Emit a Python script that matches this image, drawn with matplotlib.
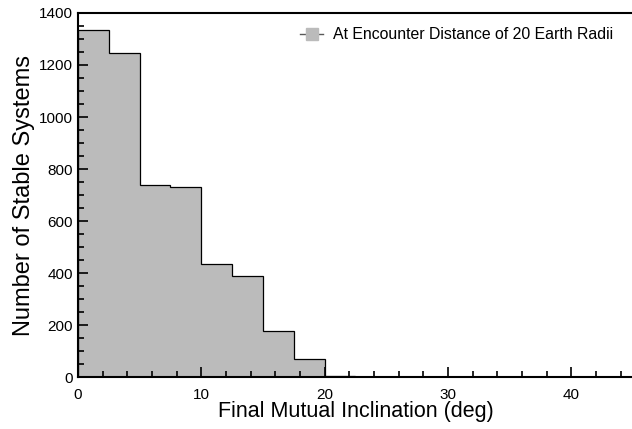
import numpy as np
import matplotlib.pyplot as plt
from matplotlib.lines import Line2D
from matplotlib.ticker import MultipleLocator

plt.rcParams['font.family'] = ['Liberation Sans', 'DejaVu Sans']

# histogram of final mutual inclination, 2.5 deg bins
bin_edges = [0, 2.5, 5, 7.5, 10, 12.5, 15, 17.5, 20, 22.5]
counts = [1333, 1247, 737, 732, 433, 390, 176, 68, 5]
legend_label = 'At Encounter Distance of 20 Earth Radii'

fig = plt.figure(figsize=(6.32, 4.29), dpi=100, facecolor='white')
ax = fig.add_axes([0.1234, 0.1212, 0.878, 0.8485])

ax.stairs(counts, bin_edges, fill=True, facecolor='#BBBBBB', edgecolor='black', lw=0.9)

ax.set_xlim(0, 45)
ax.set_ylim(0, 1400)
ax.xaxis.set_major_locator(MultipleLocator(10))
ax.xaxis.set_minor_locator(MultipleLocator(2))
ax.yaxis.set_major_locator(MultipleLocator(200))
ax.yaxis.set_minor_locator(MultipleLocator(50))
ax.tick_params(which='both', direction='in', top=False, right=False, labelsize=11, width=1.2)
ax.tick_params(which='major', length=7)
ax.tick_params(which='minor', length=4)
ax.tick_params(axis='x', pad=8)
ax.spines['right'].set_visible(False)
for s in ['left', 'bottom', 'top']:
    ax.spines[s].set_linewidth(1.5)

ax.set_xlabel('Final Mutual Inclination (deg)', fontsize=15.5, labelpad=-1)
ax.set_ylabel('Number of Stable Systems', fontsize=17, labelpad=3)

handle = Line2D([], [], color='0.35', lw=1, marker='s', markersize=8,
                markerfacecolor='#BBBBBB', markeredgecolor='#BBBBBB')
ax.legend([handle], [legend_label], loc='upper right', frameon=False,
          fontsize=11.4, handlelength=1.5, handletextpad=0.6,
          bbox_to_anchor=(0.99, 1.0))

fig.savefig('out.png', dpi=100)
